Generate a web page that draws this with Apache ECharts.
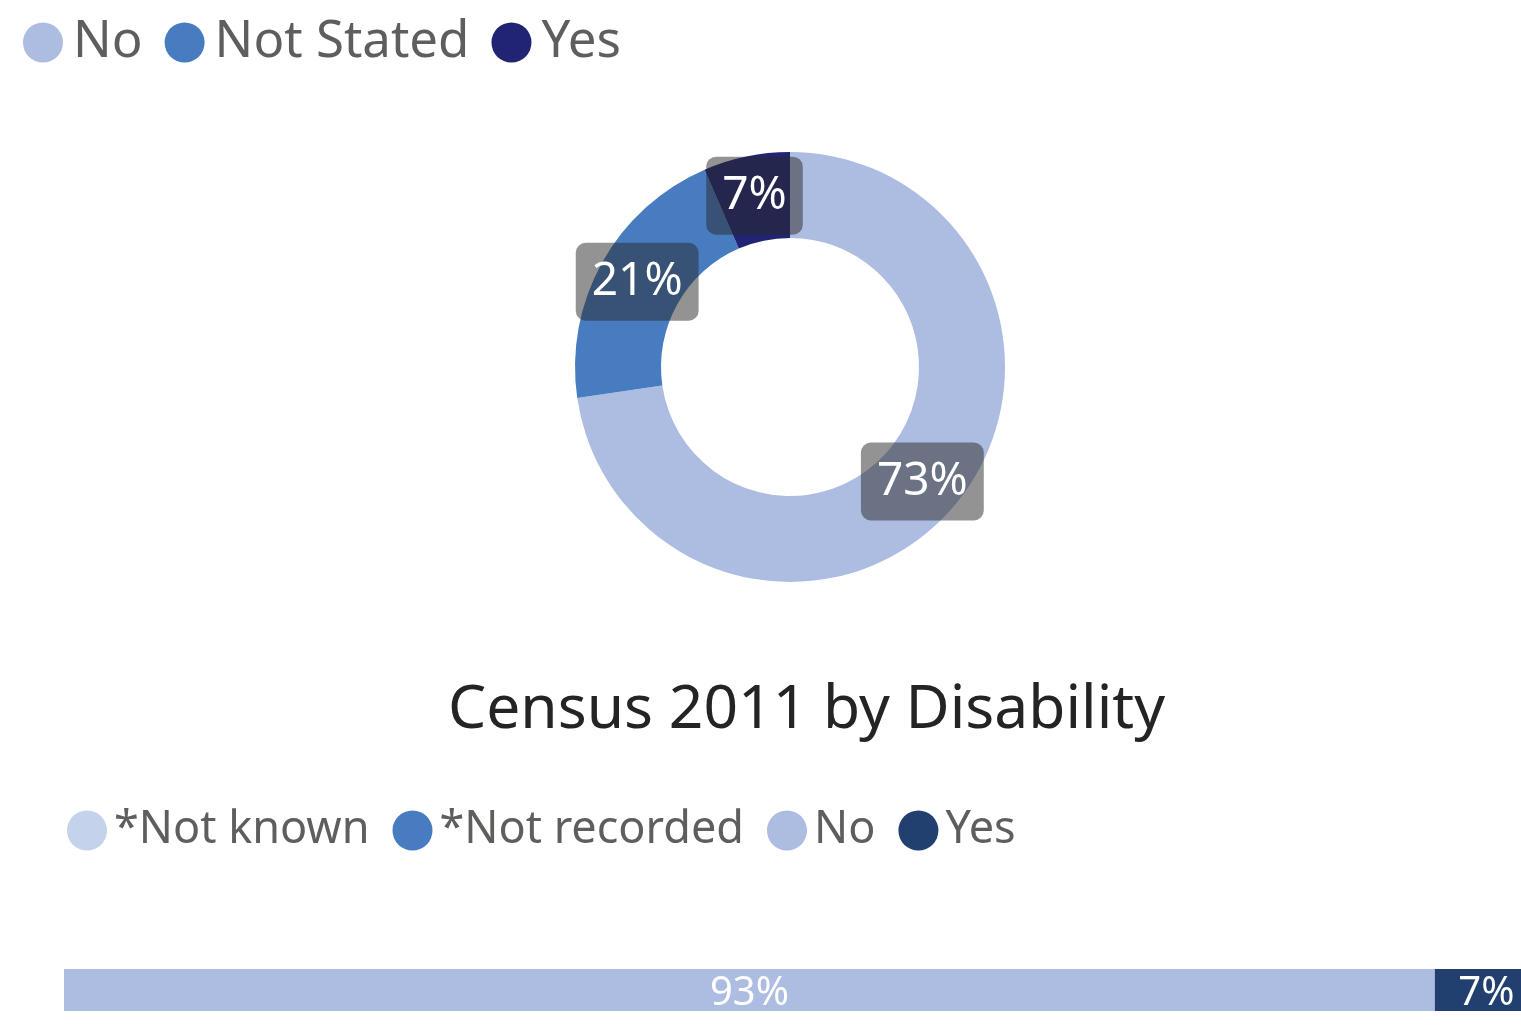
<!DOCTYPE html>
<html>
<head>
<meta charset="utf-8">
<script src="https://cdn.jsdelivr.net/npm/echarts@6/dist/echarts.min.js"></script>
<style>
html,body{margin:0;padding:0;background:#fff;overflow:hidden;width:1521px;height:1030px;}
#chart{width:1538px;height:1030px;}
</style>
</head>
<body>
<div id="chart"></div>
<script>
// Census 2011 (donut)
const censusCategories = ['No', 'Not Stated', 'Yes'];
const censusValues = [72.7, 20.8, 6.5];
const censusColors = ['#ADBCE1', '#477DC0', '#212473'];

// Recorded disability (stacked bar)
const recordCategories = ['*Not known', '*Not recorded', 'No', 'Yes'];
const recordValues = [0, 0, 93, 7];
const recordColors = ['#C5D2EC', '#477DC0', '#ADBCE1', '#21406F'];
const barAxisCategories = ['Disability'];

const titleText = 'Census 2011 by Disability';

const FONT = '"Noto Sans", "Open Sans", sans-serif';

const chart = echarts.init(document.getElementById('chart'), null, {renderer: 'canvas'});

const option = {
  animation: false,
  backgroundColor: '#ffffff',
  title: {
    text: titleText,
    left: 443,
    top: 675,
    textStyle: {fontFamily: FONT, fontSize: 60.5, fontWeight: 'normal', color: '#252423'}
  },
  legend: [
    {
      left: 18, top: 12,
      icon: 'circle', itemWidth: 40, itemHeight: 40, itemGap: 22,
      textStyle: {fontFamily: FONT, fontSize: 51, color: '#605E5C', padding: [0, 0, 0, 5]},
      data: censusCategories.map((n, i) => ({name: n, itemStyle: {color: censusColors[i]}}))
    },
    {
      left: 62, top: 803,
      icon: 'circle', itemWidth: 40, itemHeight: 40, itemGap: 23,
      textStyle: {fontFamily: FONT, fontSize: 45, color: '#605E5C', padding: [0, 0, 0, 2]},
      data: recordCategories.map((n, i) => ({name: n, itemStyle: {color: recordColors[i]}}))
    }
  ],
  grid: {left: 64, right: 0, top: 969, height: 42, containLabel: false, outerBoundsMode: 'none'},
  xAxis: {type: 'value', min: 0, max: 100, show: false},
  yAxis: {type: 'category', data: barAxisCategories, show: false},
  series: [
    {
      type: 'pie',
      name: 'Census 2011',
      center: [790, 367],
      radius: [129, 215],
      startAngle: 90,
      clockwise: true,
      avoidLabelOverlap: false,
      emphasis: {disabled: true},
      label: {
        show: true,
        position: 'inside',
        formatter: p => Math.round(p.value) + '%',
        fontFamily: FONT,
        fontSize: 46,
        color: '#ffffff',
        backgroundColor: 'rgba(40,40,40,0.5)',
        borderRadius: 10,
        padding: [17, 16, 15, 16]
      },
      labelLine: {show: false},
      data: censusCategories.map((n, i) => ({name: n, value: censusValues[i], itemStyle: {color: censusColors[i]}}))
    }
  ].concat(recordCategories.map((n, i) => ({
    type: 'bar',
    name: n,
    stack: 'total',
    barCategoryGap: '0%',
    emphasis: {disabled: true},
    itemStyle: {color: recordColors[i]},
    label: {
      show: true,
      position: 'inside',
      offset: [0, 4],
      formatter: p => (p.value ? p.value + '%' : ''),
      fontFamily: FONT,
      fontSize: 40,
      color: '#ffffff'
    },
    data: [recordValues[i]]
  })))
};

chart.setOption(option);
</script>
</body>
</html>
